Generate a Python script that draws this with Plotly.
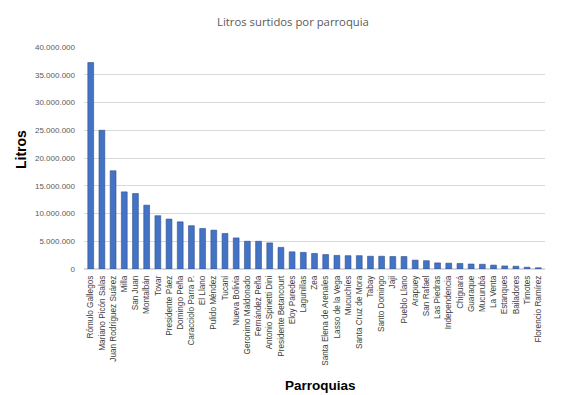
import plotly.graph_objects as go

parroquias = [
    "Rómulo Gallegos", "Mariano Picón Salas", "Juan Rodríguez Suárez", "Milla",
    "San Juan", "Montalbán", "Tovar", "Presidente Páez", "Domingo Peña",
    "Caracciolo Parra P.", "El Llano", "Pulido Méndez", "Tucaní", "Nueva Bolivia",
    "Geronimo Maldonado", "Fernández Peña", "Antonio Spinetti Dini",
    "Presidente Betancourt", "Eloy Paredes", "Lagunillas", "Zea",
    "Santa Elena de Arenales", "Lasso de la Vega", "Mucuchíes",
    "Santa Cruz de Mora", "Tabay", "Santo Domingo", "Jají", "Pueblo Llano",
    "Arapuey", "San Rafael", "Las Piedras", "Independencia", "Chiguará",
    "Guaraque", "Mucurubá", "La Venta", "Estanques", "Bailadores", "Timotes",
    "Florencio Ramírez",
]
litros = [
    37200000, 25000000, 17700000, 13900000, 13600000, 11500000, 9600000,
    9000000, 8500000, 7800000, 7300000, 7000000, 6400000, 5600000,
    5000000, 5000000, 4700000, 3900000, 3100000, 3000000, 2800000,
    2600000, 2450000, 2400000, 2400000, 2300000, 2300000, 2250000, 2250000,
    1600000, 1500000, 1100000, 1050000, 1000000, 900000, 850000, 700000,
    550000, 500000, 320000, 220000,
]
y_ticks = [0, 5000000, 10000000, 15000000, 20000000, 25000000, 30000000, 35000000, 40000000]

W, H = 567, 395
ML, MR, MT, MB = 84, 22, 47, 126

fig = go.Figure(
    go.Bar(
        x=parroquias,
        y=litros,
        marker=dict(color="#4472C4", line=dict(color="#2F528F", width=0.6)),
        width=0.52,
    )
)

fig.update_layout(
    width=W,
    height=H,
    paper_bgcolor="white",
    plot_bgcolor="white",
    separators=",.",
    showlegend=False,
    margin=dict(l=ML, r=MR, t=MT, b=MB, autoexpand=False),
    font=dict(family="Liberation Sans, Arial, sans-serif", color="#595959"),
    title=dict(
        text="Litros surtidos por parroquia",
        x=293 / W, xanchor="center", y=1 - 22 / H, yanchor="middle",
        font=dict(size=11.3, color="#595959", family="Open Sans, sans-serif"),
    ),
    xaxis=dict(
        tickangle=-90,
        tickfont=dict(size=8.2, color="#404040"),
        showgrid=False,
        showline=False,
        ticks="",
        range=[-0.6, 40.6],
        automargin=False,
        ticklabelstandoff=4,
    ),
    yaxis=dict(
        range=[0, 40000000],
        tickvals=y_ticks,
        tickformat=",d",
        tickfont=dict(size=8, color="#595959"),
        showgrid=True,
        gridcolor="#D9D9D9",
        gridwidth=1,
        zeroline=True,
        zerolinecolor="#D9D9D9",
        ticks="",
        ticklabelstandoff=8,
        automargin=False,
    ),
)

pw = W - ML - MR
ph = H - MT - MB


def to_paper(px, py):
    return (px - ML) / pw, (H - MB - py) / ph


ax, ay = to_paper(21, 150)
bx, by = to_paper(320, 385)
fig.add_annotation(text="<b>Litros</b>", x=ax, y=ay, xref="paper", yref="paper",
                   showarrow=False, textangle=-90, font=dict(size=14, color="black"),
                   xanchor="center", yanchor="middle")
fig.add_annotation(text="<b>Parroquias</b>", x=bx, y=by, xref="paper", yref="paper",
                   showarrow=False, font=dict(size=13.5, color="black"),
                   xanchor="center", yanchor="middle")

fig.write_html(
    "out.html",
    config={"displayModeBar": False},
    post_script="document.body.style.margin='0';document.body.style.padding='0';",
)
